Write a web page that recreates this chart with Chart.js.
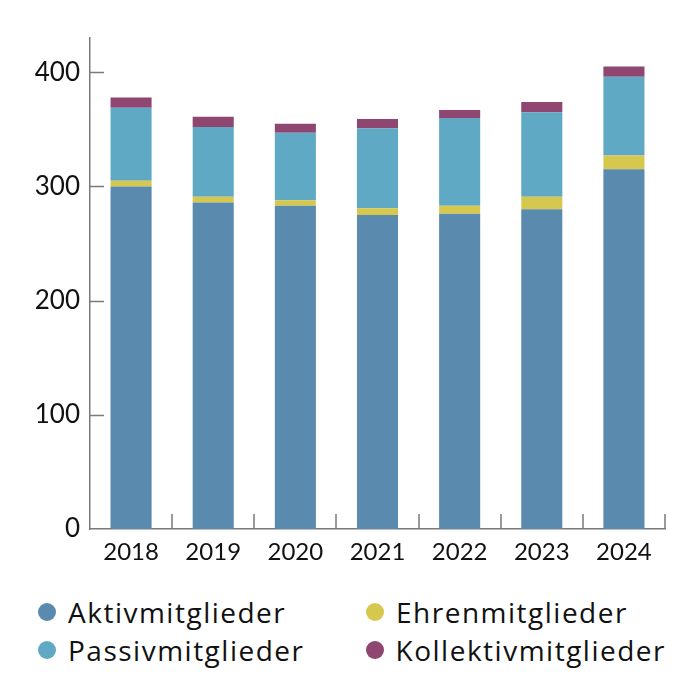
<!DOCTYPE html>
<html>
<head>
<meta charset="utf-8">
<script src="https://cdn.jsdelivr.net/npm/chart.js@4.4.1/dist/chart.umd.min.js"></script>
<style>
    body { margin: 0; background: #fff; }
    #wrap { width: 700px; height: 700px; position: relative; }
    #chartBox { width: 700px; height: 578px; position: relative; }
    #legend {
        position: absolute; left: 38px; top: 594px;
        display: grid; grid-template-columns: 328px 300px; row-gap: 2px;
        font-family: "Open Sans", Lato, sans-serif; font-size: 28px; letter-spacing: 1.5px; color: #111;
    }
    .item { display: flex; align-items: center; height: 36px; }
    .dot { width: 18px; height: 18px; border-radius: 50%; margin-right: 12px; }
</style>
</head>
<body>
<div id="wrap">
    <div id="chartBox"><canvas id="membersChart"></canvas></div>
    <div id="legend"></div>
</div>
<script>
const years = ['2018', '2019', '2020', '2021', '2022', '2023', '2024'];
const aktiv = [300, 286, 283, 275, 276, 280, 315];
const ehren = [5, 5, 5, 6, 7, 11, 12];
const passiv = [64, 61, 59, 70, 77, 74, 69];
const kollektiv = [9, 9, 8, 8, 7, 9, 9];
const yTicks = [0, 100, 200, 300, 400];

const AXIS_COLOR = '#7a7a7a';

// ticks drawn inwards from both axes
const innerTicks = {
    id: 'innerTicks',
    afterDraw(chart) {
        const ctx = chart.ctx;
        const x = chart.scales.x, y = chart.scales.y;
        const step = x.getPixelForValue(1) - x.getPixelForValue(0);
        ctx.save();
        ctx.strokeStyle = AXIS_COLOR;
        ctx.lineWidth = 1.5;
        ctx.beginPath();
        yTicks.forEach(v => {
            if (v === 0) return;
            const py = Math.round(y.getPixelForValue(v)) + 0.5;
            ctx.moveTo(x.left, py);
            ctx.lineTo(x.left + 14, py);
        });
        for (let i = 0; i < years.length; i++) {
            const bx = Math.round(x.getPixelForValue(i) + step / 2);
            ctx.moveTo(bx, y.bottom);
            ctx.lineTo(bx, y.bottom - 15);
        }
        ctx.stroke();
        ctx.restore();
    }
};

const datasets = [
    { label: 'Aktivmitglieder', data: aktiv, backgroundColor: '#5a8aad' },
    { label: 'Ehrenmitglieder', data: ehren, backgroundColor: '#d6c84f' },
    { label: 'Passivmitglieder', data: passiv, backgroundColor: '#60a9c4' },
    { label: 'Kollektivmitglieder', data: kollektiv, backgroundColor: '#8f4670' }
];

const chart = new Chart(document.getElementById('membersChart'), {
    type: 'bar',
    data: {
        labels: years,
        datasets: datasets.map(d => Object.assign({ barPercentage: 0.5, categoryPercentage: 1 }, d))
    },
    options: {
        responsive: true,
        maintainAspectRatio: false,
        animation: false,
        layout: { padding: { top: 38, right: 35, left: 0, bottom: 0 } },
        plugins: { legend: { display: false }, tooltip: { enabled: false } },
        scales: {
            x: {
                stacked: true,
                grid: { display: false, drawTicks: false },
                border: { display: true, color: AXIS_COLOR, width: 1.5 },
                ticks: { color: '#111', font: { family: 'Lato, sans-serif', size: 24 }, padding: 9 },
                afterFit: s => { s.height = 49; }
            },
            y: {
                stacked: true,
                min: 0,
                max: 430,
                grid: { display: false, drawTicks: false },
                border: { display: true, color: AXIS_COLOR, width: 1.5 },
                afterBuildTicks: s => { s.ticks = yTicks.map(v => ({ value: v })); },
                ticks: { color: '#111', font: { family: 'Lato, sans-serif', size: 26 }, padding: 10 },
                afterFit: s => { s.width = 90; }
            }
        }
    },
    plugins: [innerTicks]
});

// legend in two aligned columns
const legendEl = document.getElementById('legend');
datasets.forEach(d => {
    const item = document.createElement('div');
    item.className = 'item';
    item.innerHTML = `<span class="dot" style="background:${d.backgroundColor}"></span><span>${d.label}</span>`;
    legendEl.appendChild(item);
});
</script>
</body>
</html>
